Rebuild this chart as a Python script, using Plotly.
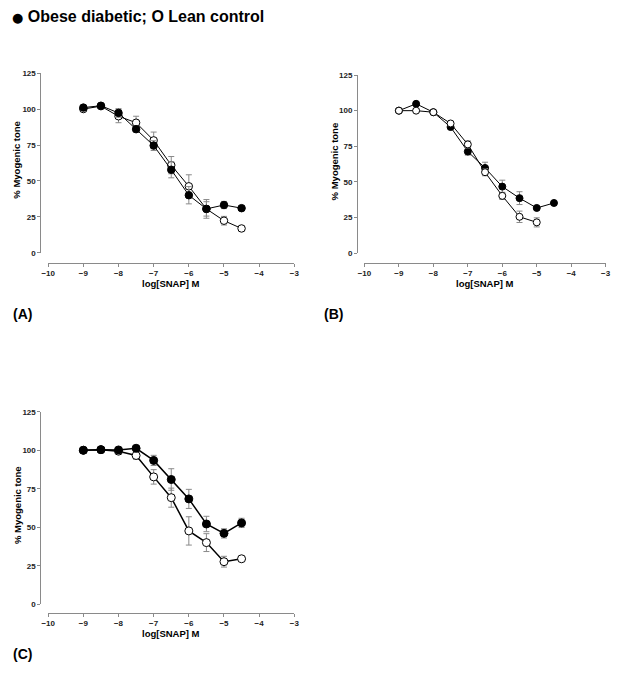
import plotly.graph_objects as go

W, H = 619, 674

# ---- data ----
x_conc = [-9, -8.5, -8, -7.5, -7, -6.5, -6, -5.5, -5, -4.5]

# Panel A
a_obese = [101, 102.3, 97.3, 86, 74.6, 57.8, 40.1, 30.6, 33.3, 31.1]
a_obese_err = [1, 1.5, 3, 2, 3.4, 5.6, 6, 5, 2.5, 1.5]
a_lean = [100, 102, 95, 90.5, 78.2, 61, 46.3, 30.6, 22.4, 17]
a_lean_err = [1, 1.5, 4.5, 4.5, 5.8, 6, 8, 6.5, 3, 1.5]

# Panel B
b_obese = [100, 104.8, 98.9, 88.5, 71.3, 59.8, 46.7, 38.6, 31.7, 35.2]
b_obese_err = [1, 1, 1, 1, 2.5, 4, 4.5, 4.5, 1, 1]
b_lean_x = [-9, -8.5, -8, -7.5, -7, -6.5, -6, -5.5, -5]
b_lean = [100, 100, 98.9, 91, 76.3, 56.8, 40.2, 25.5, 21.6]
b_lean_err = [1, 1, 1, 1.5, 2.5, 2.5, 2.5, 4, 3.2]

# Panel C
c_obese = [100, 100.4, 100.2, 101.3, 93.4, 81, 68.4, 52.1, 46, 52.8]
c_obese_err = [1, 1, 1, 1, 3.3, 7, 6.2, 5, 3, 3]
c_lean = [100, 100.4, 99.4, 96.6, 82.7, 69.2, 47.6, 40, 27.6, 29.5]
c_lean_err = [1, 1, 1, 2.5, 4.7, 6.2, 9.2, 5.8, 3.5, 1.5]

x_ticks = [-10, -9, -8, -7, -6, -5, -4, -3]
y_ticks = [0, 25, 50, 75, 100, 125]

FONT = "Liberation Sans"
AXC = "#8a8a8a"
ERRC = "#8a8a8a"

fig = go.Figure()


def px_x(p):
    return p / W


def px_y(p):
    return 1 - p / H


def add_series(xs, ys, errs, filled, ax, lw, ms):
    fig.add_trace(go.Scatter(
        x=xs, y=ys, mode="lines+markers",
        xaxis="x" + ax, yaxis="y" + ax,
        line=dict(color="black", width=lw),
        marker=dict(size=ms, color="black" if filled else "white",
                    line=dict(color="black", width=1)),
        error_y=dict(type="data", array=errs, visible=True,
                     color=ERRC, thickness=1, width=3),
        showlegend=False, hoverinfo="skip",
    ))


# A: lean below, obese on top
add_series(x_conc, a_lean, a_lean_err, False, "", 1, 7.5)
add_series(x_conc, a_obese, a_obese_err, True, "", 1, 7.5)
# B: obese below, lean on top
add_series(x_conc, b_obese, b_obese_err, True, "2", 1, 7)
add_series(b_lean_x, b_lean, b_lean_err, False, "2", 1, 7)
# C
add_series(x_conc, c_lean, c_lean_err, False, "3", 1.5, 8)
add_series(x_conc, c_obese, c_obese_err, True, "3", 1.5, 8)

tickfont = dict(family=FONT, size=8, color="#222", weight="bold")


def xaxis(dom, pos_px):
    return dict(domain=[px_x(dom[0]), px_x(dom[1])], range=[-10, -3],
                anchor="free", position=px_y(pos_px),
                tickvals=x_ticks, ticks="outside", ticklen=3, tickwidth=1,
                tickcolor=AXC, showline=True, linecolor=AXC, linewidth=1,
                showgrid=False, zeroline=False, tickfont=tickfont,
                fixedrange=True)


def yaxis(top_px, bot_px, pos_px):
    return dict(domain=[px_y(bot_px), px_y(top_px)], range=[0, 125],
                anchor="free", position=px_x(pos_px),
                tickvals=y_ticks, ticks="outside", ticklen=3, tickwidth=1,
                tickcolor=AXC, showline=True, linecolor=AXC, linewidth=1,
                showgrid=False, zeroline=False, tickfont=tickfont,
                fixedrange=True)


annotations = []


def label(text, x, y, size, angle=0, xanchor="center", family=FONT):
    annotations.append(dict(
        text=text, x=px_x(x), y=px_y(y), xref="paper", yref="paper",
        showarrow=False, textangle=angle, xanchor=xanchor, yanchor="middle",
        font=dict(family=family, size=size, color="black", weight="bold")))


# Panel A
xa = xaxis((42, 293), 262)
ya = yaxis(70, 252.3, 34)
label("log[SNAP] M", 167.5, 283, 9.5)
label("% Myogenic tone", 10, 158, 9.5, angle=-90)
label("(A)", 4, 314, 14, xanchor="left")

# Panel B
xb = xaxis((364.5, 610.5), 262)
yb = yaxis(72, 252.5, 357)
label("log[SNAP] M", 487.5, 283, 9.5)
label("% Myogenic tone", 334, 160, 9.5, angle=-90)
label("(B)", 321, 314, 14, xanchor="left")

# Panel C
xc = xaxis((42, 293), 617)
yc = yaxis(413.3, 608.3, 34)
label("log[SNAP] M", 167.5, 638, 9.5)
label("% Myogenic tone", 10, 508, 9.5, angle=-90)
label("(C)", 4, 659, 14, xanchor="left")

# Legend-like header
label("<span style='font-family:DejaVu Sans;font-size:13px'>\u25cf</span>"
      " Obese diabetic; O Lean control", 3, 12.5, 16, xanchor="left")

fig.update_layout(
    width=W, height=H, margin=dict(l=0, r=0, t=0, b=0),
    paper_bgcolor="white", plot_bgcolor="white",
    xaxis=xa, yaxis=ya, xaxis2=xb, yaxis2=yb, xaxis3=xc, yaxis3=yc,
    annotations=annotations,
)

fig.write_html(
    "out.html",
    config={"displayModeBar": False, "staticPlot": True},
    post_script="document.body.style.margin='0px';"
                "document.body.style.overflow='hidden';",
)
